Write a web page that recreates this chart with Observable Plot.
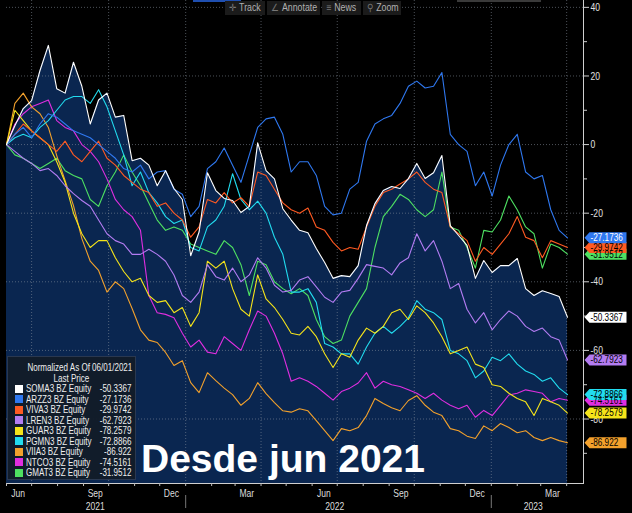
<!DOCTYPE html>
<html>
<head>
<meta charset="utf-8">
<script src="https://cdn.jsdelivr.net/npm/d3@7"></script>
<script src="https://cdn.jsdelivr.net/npm/@observablehq/plot@0.6"></script>
<style>
  html, body { margin: 0; padding: 0; background: #000; }
  #wrap { position: relative; width: 632px; height: 513px; overflow: hidden; background: #000;
          font-family: "Liberation Sans", Arial, sans-serif; }
  #wrap svg { position: absolute; left: 0; top: 0; }
  .nar { display: inline-block; white-space: nowrap; transform: scaleX(0.73); }
  #legend { position: absolute; left: 7px; top: 356px; width: 127px; height: 122px;
            background: rgba(18, 27, 40, 0.95); border: 1px solid #2a3850; color: #eee; font-size: 11px; }
  #legend .hdr { text-align: center; height: 10.6px; line-height: 10.6px; white-space: nowrap; }
  #legend .hdr .nar { transform-origin: 50% 50%; }
  #legend .hdr:first-child { margin-top: 5px; }
  #legend .row { position: relative; height: 10.5px; line-height: 10.5px; }
  #legend .sw { position: absolute; left: 7px; top: 1.5px; width: 8px; height: 8px; }
  #legend .nm { position: absolute; left: 18px; top: 0; }
  #legend .nm .nar { transform-origin: 0 50%; }
  #legend .vl { position: absolute; right: 4px; top: 0; }
  #legend .vl .nar { transform-origin: 100% 50%; }
  .tbtn { position: absolute; top: 1px; height: 14px; line-height: 14px; background: #1b1b1b; color: #b0b0b0;
          font-size: 10px; white-space: nowrap; }
  .tbtn .ic { color: #777; margin-left: 5px; margin-right: 3px; }
  .tbtn .nar { transform-origin: 0 50%; transform: scaleX(0.88); }
  .topbar { position: absolute; top: 0; height: 2px; }
  #title { position: absolute; left: 141px; top: 437px; font-family: "Liberation Sans", Arial, sans-serif;
           font-weight: bold; font-size: 39px; color: #fff; line-height: 44px; white-space: nowrap; }
</style>
</head>
<body>
<div id="wrap"></div>
<script>
// ---------- data ----------
const startDate = "2021-06-01";
const stepDays = 10;
const tickers = ["SOMA3", "ARZZ3", "VIVA3", "LREN3", "GUAR3", "PGMN3", "VIIA3", "NTCO3", "GMAT3"];
const legendNames = ["SOMA3 BZ Equity", "ARZZ3 BZ Equity", "VIVA3 BZ Equity", "LREN3 BZ Equity", "GUAR3 BZ Equity",
                     "PGMN3 BZ Equity", "VIIA3 BZ Equity", "NTCO3 BZ Equity", "GMAT3 BZ Equity"];
const lastPrices = [-50.3367, -27.1736, -29.9742, -62.7923, -78.2579, -72.8866, -86.922, -74.5161, -31.9512];
const lastLabels = ["-50.3367", "-27.1736", "-29.9742", "-62.7923", "-78.2579", "-72.8866", "-86.922", "-74.5161", "-31.9512"];
const colors = ["#ffffff", "#2f78f0", "#ff5a22", "#b37cf2", "#f5e41a", "#22dcef", "#f3a12c", "#e02ee0", "#4ee062"];
const tagTextColors = ["#000", "#fff", "#000", "#000", "#000", "#000", "#000", "#000", "#000"];

const soma = [0, 5.5, 10.5, 12.8, 21.6, 28.9, 16.3, 15, 24, 17,
  6, 13, 15, 8, 8.5, -4.7, -4, -6, -12, -7.6,
  -12.8, -16, -32.4, -25.5, -8.2, -13.4, -15.7, -16.3, -19.8, -18,
  0.5, -7.6, -10, -18.7, -22, -25, -25.7, -30.3, -34.4, -39,
  -38.2, -38.5, -35.3, -23.6, -17.2, -13.4, -12.2, -12.8, -9.9, -5.5,
  -9.9, -8.2, -3.2, -23.6, -26.5, -29.4, -39, -33.8, -37.3, -35.3,
  -35.3, -33.2, -42, -44, -42.6, -43.4, -44.3, -50.3367];
const arzz = [0, 3, 5, 2, 6, 9, 8, 6, 4, 3,
  2, 0, -2, -4, -7, -8, -6, -10, -8, -7.6,
  -13, -14.5, -21, -18, -7, -5, -1, -6, -11, -3,
  5, 7.5, 8, 3, -8, -5, -5, -9, -18, -20.5,
  -20, -13, -11, 1, 6, 7.5, 8.5, 12, 17, 18.5,
  16.5, 17, 21, 3, 0, -2, -12, -8, -15, -6,
  0, 3, -8, -10, -9, -19, -25, -27.1736];
const viva = [0, 3, 6, 4, 2, 0, -2, 1, -3, -5,
  -2, 1, -4, -6, -9, -11, -13, -14, -18, -17,
  -20, -22, -27, -24, -16, -17, -14, -17, -15.5, -18,
  -8, -9, -13, -17, -19, -20, -18.5, -24, -25, -28.5,
  -31, -30, -30.5, -24, -18, -14, -13, -11.5, -10, -8,
  -11, -13, -14, -24, -26, -28, -34, -30, -32, -29,
  -26, -21, -27, -28, -33, -28, -29, -29.9742];
const lren = [0, -2, -4, -5.5, -7.6, -7, -9, -12, -14.3, -16.3,
  -18, -22, -26, -28, -29, -32, -32, -30.5, -32, -34,
  -38, -44, -46, -43, -35, -38.5, -39.5, -36, -40, -38,
  -33, -36, -41, -43, -42.5, -39.5, -38.5, -41.5, -44.5, -46,
  -43, -42.5, -39, -35, -35.5, -36, -38, -34.5, -33, -26,
  -31, -28, -34, -42, -40.5, -48, -52, -49, -54, -51,
  -48.5, -50, -53, -54.5, -53.5, -56, -57, -62.7923];
const guar = [0, 10, 7, 4, 2, 0, -5, -11, -20, -26,
  -30, -28, -28, -33, -37, -40, -39, -44, -46, -45.5,
  -49, -47.5, -53, -49, -34, -36, -34, -42, -48, -50,
  -38, -45, -47.5, -51, -55, -55.5, -53, -56, -61, -65,
  -61, -62, -57, -53.5, -55, -53, -49, -48, -51, -47,
  -49, -52, -56, -61, -60, -59, -64, -65, -70, -70.5,
  -72.5, -74, -75, -79, -74, -75, -76, -78.2579];
const pgmn = [0, 2, 3, 2, 5, 7, 10, 13, 14, 14,
  12, 16, 11, 4, -3, -12, -8, -14, -17, -21,
  -23, -22, -30, -31, -24, -22, -18, -8.5, -16, -19,
  -16.5, -20, -27, -32, -43, -43, -42, -46, -58, -59,
  -61, -61, -64, -59, -55, -53, -55, -53, -50.5, -45.5,
  -48, -49, -51, -60, -61, -63, -68, -66, -62, -63,
  -61, -64, -66, -67, -69, -68, -71, -72.8866];
const viia = [0, 12, 15, 11, 9, 5, -3.2, -10.5, -17.8, -27.4,
  -34, -36.7, -43, -40, -42, -47.8, -54, -57, -57.7, -60.6,
  -64.4, -63, -69.4, -72.3, -66.5, -68.8, -71, -72.9, -76, -74,
  -69.4, -72.6, -75.2, -77.6, -78, -77, -77.6, -80.5, -83.4, -86.3,
  -82.8, -83.4, -82.5, -79, -74, -75.5, -76.7, -77.6, -74.6, -73.2,
  -76, -78, -79, -82.8, -83.4, -85, -85.7, -82, -83.4, -81.3,
  -82.5, -84, -83.4, -85.4, -86.3, -85.4, -86.3, -86.922];
const ntco = [0, 6, 9, 11, 12, 13, 7, 5, 4, 0,
  -2, -5, -10, -16, -19, -21, -25, -44, -49, -49.5,
  -50.5, -55, -59, -57, -60.5, -61, -56, -58, -60, -54,
  -48.5, -50, -55, -61, -69, -68, -69, -70.5, -72.5, -74.5,
  -72, -71, -69.5, -66.5, -71, -69, -70, -70.5, -71.5, -72.5,
  -74, -72.5, -74.5, -76, -77, -76, -79.5, -77.5, -79, -76,
  -73, -72.5, -71.5, -72, -72.5, -75, -74, -74.5161];
const gmat = [0, -3, -4, -5.5, -7, -5.5, -4, -7.6, -9, -10,
  -16, -18, -12, -8, -3, -8, -12, -17, -22, -25,
  -24, -25, -29, -30, -31, -32, -28, -30, -35, -44,
  -34, -35, -40, -42, -43.5, -42, -44, -51, -56, -58,
  -57, -50, -46, -42, -30, -21, -18, -14.5, -16, -19,
  -21, -19, -8, -24, -25, -30, -36, -25, -25.5, -22,
  -15, -19, -24, -26, -36, -29, -30, -31.9512];
const seriesValues = [soma, arzz, viva, lren, guar, pgmn, viia, ntco, gmat];

const yMajorTicks = [40, 20, 0, -20, -40, -60, -80];
const yMinorTicks = [30, 10, -10, -30, -50, -70, -90];
const gridDates = ["2021-07-01", "2021-10-01", "2022-01-01", "2022-04-01", "2022-07-01", "2022-10-01", "2023-01-01", "2023-04-01"];
const monthLabelDates = ["2021-06-15", "2021-09-15", "2021-12-15", "2022-03-15", "2022-06-15", "2022-09-15", "2022-12-15", "2023-03-15"];
const monthLabels = ["Jun", "Sep", "Dec", "Mar", "Jun", "Sep", "Dec", "Mar"];
const yearLabelDates = ["2021-09-15", "2022-06-28", "2023-02-20"];
const yearLabels = ["2021", "2022", "2023"];
const yearSeparators = ["2022-01-01", "2023-01-01"];
const legendHeader = ["Normalized As Of 06/01/2021", "Last Price"];
const titleText = "Desde jun 2021";
const toolbarItems = [["✛", "Track"], ["∠", "Annotate"], ["≡", "News"], ["⚲", "Zoom"]];

// ---------- build ----------
const navy = "#0a2650";
const yLo = -98.8, yHi = 42;
const parse = d3.utcParse("%Y-%m-%d");
const start = parse(startDate);
const n = soma.length;
const dates = d3.range(n).map(i => d3.utcDay.offset(start, i * stepDays));
const xEnd = dates[n - 1];

const series = tickers.map((t, k) => ({
  ticker: t, color: colors[k], last: lastPrices[k], label: lastLabels[k], textColor: tagTextColors[k],
  rows: seriesValues[k].map((v, i) => ({date: dates[i], v}))
}));
const drawOrder = series.slice().reverse();

const tagSymbol = {
  draw(ctx) {
    ctx.moveTo(0, 0);
    ctx.lineTo(5, -5.5);
    ctx.lineTo(42, -5.5);
    ctx.lineTo(42, 5.5);
    ctx.lineTo(5, 5.5);
    ctx.closePath();
  }
};

const monthStarts = d3.utcMonth.range(start, xEnd);

const chart = Plot.plot({
  width: 632,
  height: 513,
  marginTop: 0,
  marginLeft: 6,
  marginRight: 49,
  marginBottom: 30,
  style: {background: "transparent", color: "#ddd", fontFamily: '"Liberation Sans", Arial, sans-serif', fontSize: "10px", overflow: "visible"},
  x: {type: "utc", domain: [start, xEnd], range: [6, 567]},
  y: {domain: [yLo, yHi]},
  marks: [
    Plot.areaY(series[0].rows, {x: "date", y1: yLo, y2: "v", fill: navy}),
    Plot.gridY(yMajorTicks, {stroke: "#8a93a0", strokeOpacity: 0.55, strokeDasharray: "1,2"}),
    Plot.gridX(gridDates.map(parse), {stroke: "#8a93a0", strokeOpacity: 0.55, strokeDasharray: "1,2"}),
    ...drawOrder.map(s => Plot.line(s.rows, {x: "date", y: "v", stroke: s.color, strokeWidth: 1.1})),
    Plot.frame({anchor: "right", stroke: "#cfcfcf"}),
    Plot.frame({anchor: "bottom", stroke: "#cfcfcf"}),
    Plot.axisY({anchor: "right", ticks: yMajorTicks, tickSize: 5, tickPadding: 2, tickFormat: d => String(d),
                label: null, stroke: "#cfcfcf", fill: "#e0e0e0", fontSize: 11}),
    Plot.axisY({anchor: "right", ticks: yMinorTicks, tickSize: 3, tickFormat: () => "", label: null, stroke: "#cfcfcf"}),
    Plot.axisX({ticks: monthStarts, tickSize: 3, tickFormat: () => "", label: null, stroke: "#bfbfbf"}),
    Plot.axisX({ticks: yearSeparators.map(parse), tickSize: 13, dy: 12, tickFormat: () => "", label: null, stroke: "#777"}),
    Plot.text(monthLabelDates.map((d, i) => ({date: parse(d), t: monthLabels[i]})),
              {x: "date", text: "t", frameAnchor: "bottom", dy: 10, lineAnchor: "middle", fill: "#dcdcdc", fontSize: 11}),
    Plot.text(yearLabelDates.map((d, i) => ({date: parse(d), t: yearLabels[i]})),
              {x: "date", text: "t", frameAnchor: "bottom", dy: 23, lineAnchor: "middle", fill: "#dcdcdc", fontSize: 11}),
    ...drawOrder.map(s => Plot.dot([s], {y: "last", frameAnchor: "right", dx: 1, symbol: tagSymbol, fill: s.color, stroke: "none"})),
    ...drawOrder.map(s => Plot.text([s], {y: "last", text: "label", frameAnchor: "right", dx: 7, textAnchor: "start",
                                         lineAnchor: "middle", fill: s.textColor, fontSize: 10.5}))
  ]
});

// condense every SVG text (the reference uses a narrow terminal font)
chart.querySelectorAll("text").forEach(t => {
  const tr = t.getAttribute("transform");
  if (tr) t.setAttribute("transform", tr + " scale(0.78,1)");
});

const wrap = document.getElementById("wrap");
wrap.appendChild(chart);

// top strip and toolbar
const b1 = document.createElement("div"); b1.className = "topbar";
b1.style.cssText += "left:193px;width:48px;background:#1f4fb0;"; wrap.appendChild(b1);
const b2 = document.createElement("div"); b2.className = "topbar";
b2.style.cssText += "left:457px;width:84px;background:#3a3a3a;"; wrap.appendChild(b2);
const btnPos = [[225, 40], [267, 53], [322, 39], [363, 38]];
toolbarItems.forEach(([ic, t], k) => {
  const s = document.createElement("div");
  s.className = "tbtn";
  s.style.left = btnPos[k][0] + "px";
  s.style.width = btnPos[k][1] + "px";
  s.innerHTML = `<span class="nar"><span class="ic">${ic}</span>${t}</span>`;
  wrap.appendChild(s);
});

// legend box
const lg = document.createElement("div"); lg.id = "legend";
legendHeader.forEach(h => {
  const d = document.createElement("div"); d.className = "hdr";
  d.innerHTML = `<span class="nar">${h}</span>`; lg.appendChild(d);
});
series.forEach((s, k) => {
  const r = document.createElement("div"); r.className = "row";
  r.innerHTML = `<span class="sw" style="background:${s.color}"></span><span class="nm"><span class="nar">${legendNames[k]}</span></span><span class="vl"><span class="nar">${s.label}</span></span>`;
  lg.appendChild(r);
});
wrap.appendChild(lg);

// big title
const tt = document.createElement("div"); tt.id = "title"; tt.textContent = titleText; wrap.appendChild(tt);
</script>
</body>
</html>
